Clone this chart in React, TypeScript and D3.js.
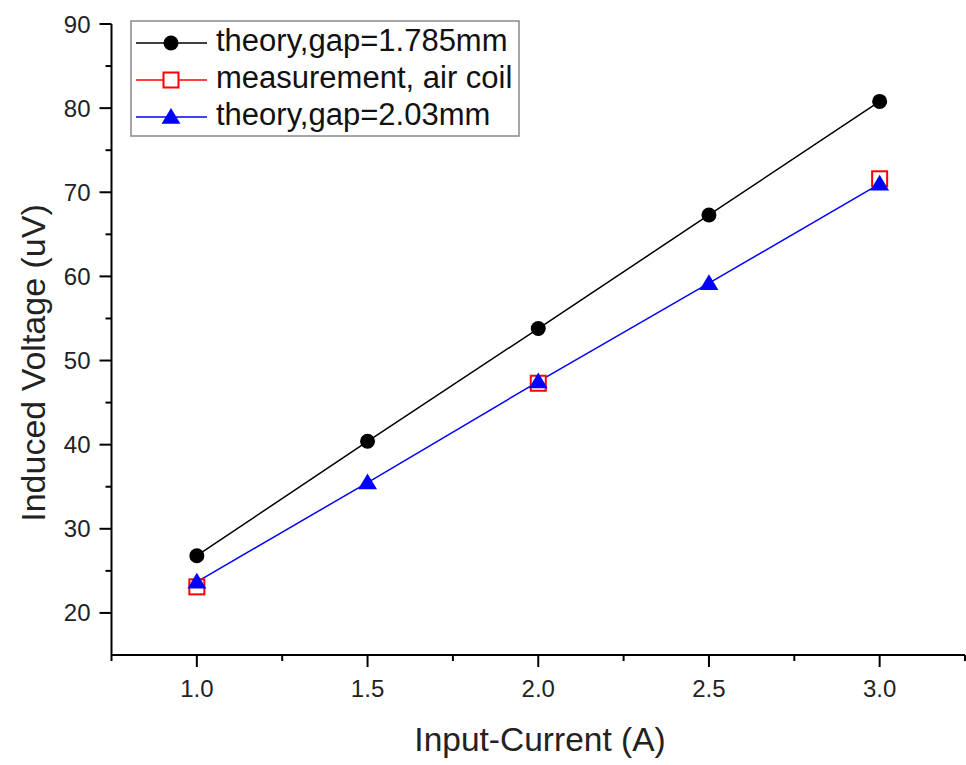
import React from "react";
import * as d3 from "d3";

const currents = [1.0, 1.5, 2.0, 2.5, 3.0];
const theory1785 = [26.8, 40.4, 53.8, 67.3, 80.8];
const measCurrents = [1.0, 2.0, 3.0];
const measurement = [23.1, 47.3, 71.6];
const theory203 = [23.7, 35.5, 47.5, 59.2, 71.0];
const xTicks = [1.0, 1.5, 2.0, 2.5, 3.0];
const xMinor = [0.75, 1.25, 1.75, 2.25, 2.75, 3.25];
const yTicks = [20, 30, 40, 50, 60, 70, 80, 90];
const yMinor = [25, 35, 45, 55, 65, 75, 85];

const FONT = "'Liberation Sans', Arial, sans-serif";

export default function App() {
  const W = 966, H = 765;
  const x = d3.scaleLinear().domain([0.75, 3.25]).range([111.5, 965]);
  const y = d3.scaleLinear().domain([15, 90]).range([655, 24]);
  const line = d3.line<[number, number]>().x(d => x(d[0])).y(d => y(d[1]));
  const s1 = currents.map((c, i) => [c, theory1785[i]] as [number, number]);
  const s2 = measCurrents.map((c, i) => [c, measurement[i]] as [number, number]);
  const s3 = currents.map((c, i) => [c, theory203[i]] as [number, number]);
  const tri = (cx: number, cy: number, r: number) =>
    `M${cx},${cy - r}L${cx + r * 1.05},${cy + r * 0.75}L${cx - r * 1.05},${cy + r * 0.75}Z`;
  const legendRows = [
    { label: "theory,gap=1.785mm", color: "#000", kind: "circle" },
    { label: "measurement, air coil", color: "#ff0000", kind: "square" },
    { label: "theory,gap=2.03mm", color: "#0000ff", kind: "tri" },
  ];
  const marker = (kind: string, color: string, cx: number, cy: number, key: any) => {
    if (kind === "circle") return <circle key={key} cx={cx} cy={cy} r={7.5} fill={color} />;
    if (kind === "square")
      return <rect key={key} x={cx - 7.5} y={cy - 7.5} width={15} height={15} fill="#fff" stroke={color} strokeWidth={2} />;
    return <path key={key} d={tri(cx, cy, 9)} fill={color} />;
  };
  return (
    <svg width={W} height={H} style={{ position: "absolute", left: 0, top: 0, background: "#fff" }}>
      {/* axes */}
      <line x1={x(0.75)} x2={x(0.75)} y1={y(90)} y2={y(15)} stroke="#000" strokeWidth={2} />
      <line x1={x(0.75)} x2={x(3.25)} y1={y(15)} y2={y(15)} stroke="#000" strokeWidth={2} />
      {xTicks.map(t => (
        <g key={"xt" + t}>
          <line x1={x(t)} x2={x(t)} y1={y(15)} y2={y(15) + 12} stroke="#000" strokeWidth={2} />
          <text x={x(t)} y={697} textAnchor="middle" fontFamily={FONT} fontSize={24} fill="#222">{t.toFixed(1)}</text>
        </g>
      ))}
      {xMinor.map(t => (
        <line key={"xm" + t} x1={x(t)} x2={x(t)} y1={y(15)} y2={y(15) + 6} stroke="#000" strokeWidth={2} />
      ))}
      {yTicks.map(t => (
        <g key={"yt" + t}>
          <line x1={x(0.75) - 12} x2={x(0.75)} y1={y(t)} y2={y(t)} stroke="#000" strokeWidth={2} />
          <text x={x(0.75) - 21} y={y(t) + 8.5} textAnchor="end" fontFamily={FONT} fontSize={24} fill="#222">{t}</text>
        </g>
      ))}
      {yMinor.map(t => (
        <line key={"ym" + t} x1={x(0.75) - 6} x2={x(0.75)} y1={y(t)} y2={y(t)} stroke="#000" strokeWidth={2} />
      ))}
      {/* axis titles */}
      <text x={540} y={751} textAnchor="middle" fontFamily={FONT} fontSize={33.5} fill="#222">Input-Current (A)</text>
      <text transform={`translate(45,363) rotate(-90)`} textAnchor="middle" fontFamily={FONT} fontSize={34} fill="#222">Induced Voltage (uV)</text>
      {/* series */}
      <path d={line(s1) || ""} fill="none" stroke="#000" strokeWidth={1.5} />
      <path d={line(s3) || ""} fill="none" stroke="#0000ff" strokeWidth={1.5} />
      {s2.map((d, i) => marker("square", "#ff0000", x(d[0]), y(d[1]), "m" + i))}
      {s1.map((d, i) => marker("circle", "#000", x(d[0]), y(d[1]), "c" + i))}
      {s3.map((d, i) => marker("tri", "#0000ff", x(d[0]), y(d[1]), "t" + i))}
      {/* legend */}
      <rect x={131} y={21} width={388} height={115} fill="#fff" stroke="#888" strokeWidth={1.5} />
      {legendRows.map((r, i) => {
        const cy = 43 + i * 37;
        return (
          <g key={"lg" + i}>
            <line x1={136} x2={207} y1={cy} y2={cy} stroke={r.color} strokeWidth={1.5} />
            {marker(r.kind, r.color, 171, cy, "lm" + i)}
            <text x={216} y={cy + 8} fontFamily={FONT} fontSize={31} fill="#111">{r.label}</text>
          </g>
        );
      })}
    </svg>
  );
}
